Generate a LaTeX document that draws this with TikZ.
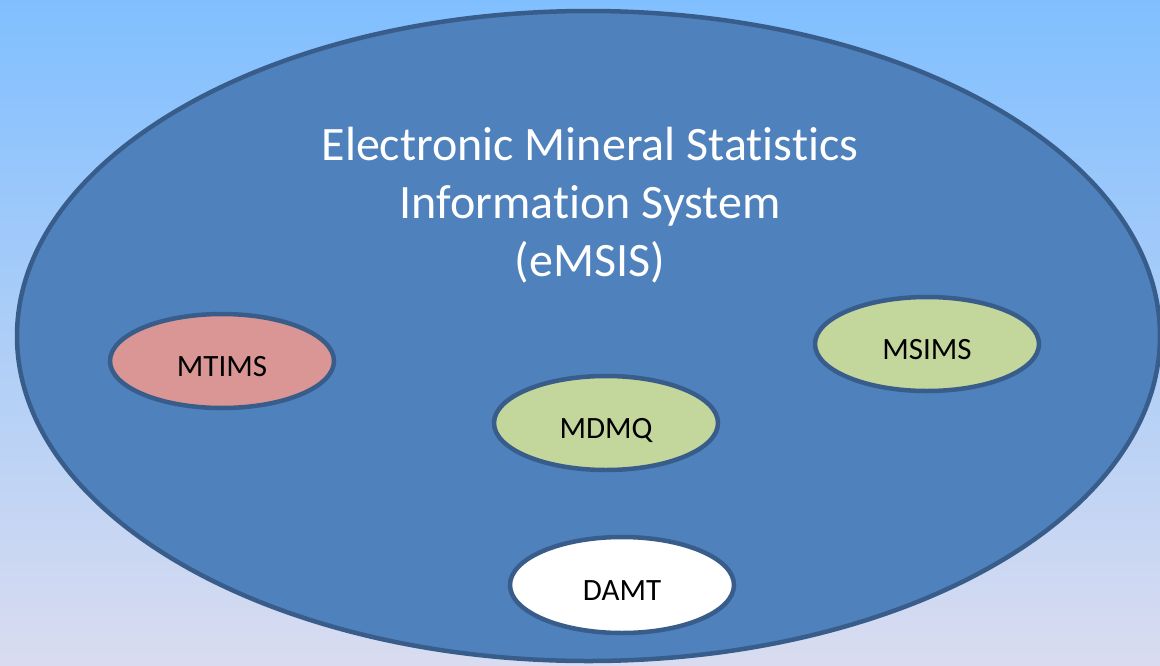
\documentclass[tikz,border=0pt]{standalone}
\usepackage{fontspec}
\setmainfont{Carlito}[Ligatures={NoCommon}]
\usetikzlibrary{shapes.geometric}
\definecolor{bgtop}{HTML}{80BFFF}
\definecolor{bgbot}{HTML}{D9DCF0}
\definecolor{mainfill}{HTML}{4F81BD}
\definecolor{edge}{HTML}{385D8A}
\definecolor{pink}{HTML}{D99694}
\definecolor{green}{HTML}{C3D69B}
\tikzset{
  sys/.style={ellipse, draw=edge, line width=4.5pt, inner sep=0pt,
    text height=30pt, text depth=0pt,
    minimum width=224pt, minimum height=94pt, font=\fontsize{31}{36}\selectfont, text=black},
}
\begin{document}
\begin{tikzpicture}[x=1pt,y=-1pt]
\shade[top color=bgtop, bottom color=bgbot] (0,0) rectangle (1160,665);
\useasboundingbox (0,0) rectangle (1160,665);
\node[ellipse, draw=edge, fill=mainfill, line width=4.5pt, inner sep=0pt,
  minimum width=1143pt, minimum height=650pt] (emsis) at (588.5,336) {};
\node[text=white, align=center, font=\fontsize{48}{58}\selectfont] (title) at (590,205)
  {Electronic Mineral Statistics\\Information System\\(eMSIS)};
\node[sys, fill=pink] (mtims) at (222,361) {MTIMS};
\node[sys, fill=green] (mdmq) at (606,423) {MDMQ};
\node[sys, fill=green] (msims) at (927,344) {MSIMS};
\node[sys, fill=white, minimum height=96pt] (damt) at (622,585) {DAMT};
\end{tikzpicture}
\end{document}
